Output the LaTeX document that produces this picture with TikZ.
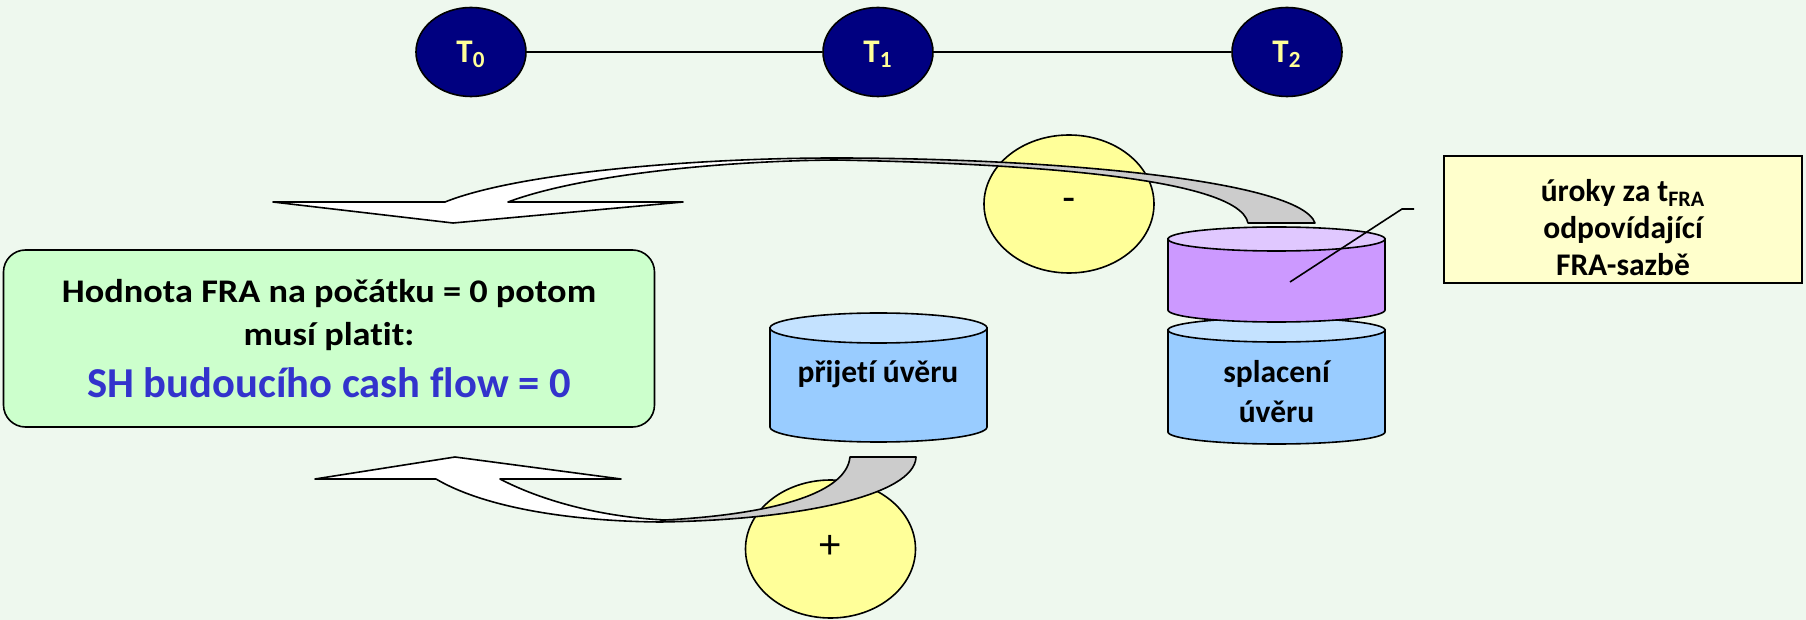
\documentclass[tikz,border=0pt]{standalone}
\usepackage{fontspec}
\setmainfont{Carlito}[Ligatures=NoCommon]
\newfontfamily\widefont{Carlito}[FakeStretch=1.1,Ligatures=NoCommon]
\newfontfamily\signfont{Liberation Sans}
\usetikzlibrary{shapes.geometric}

\definecolor{bgMint}{RGB}{238,248,238}
\definecolor{navyDot}{RGB}{0,0,128}
\definecolor{dotText}{RGB}{255,255,153}
\definecolor{signYellow}{RGB}{255,255,153}
\definecolor{valueGreen}{RGB}{204,255,204}
\definecolor{rateYellow}{RGB}{255,255,204}
\definecolor{flowBlue}{RGB}{51,51,204}
\definecolor{loanBlue}{RGB}{153,204,255}
\definecolor{loanBlueTop}{RGB}{196,226,255}
\definecolor{rateViolet}{RGB}{204,153,255}
\definecolor{rateVioletTop}{RGB}{224,200,255}
\definecolor{ribbonGray}{RGB}{204,204,204}

\begin{document}
\begin{tikzpicture}[x=0.5pt,y=-0.5pt,line width=0.8pt,
  every node/.style={font=\fontsize{15.75}{18.5}\selectfont\bfseries},
  timedot/.style={ellipse,draw,fill=navyDot,text=dotText,inner sep=0pt,
    minimum width=55pt,minimum height=44.5pt,text depth=0pt,
    font=\fontsize{16.5}{18}\selectfont\bfseries},
  signdot/.style={ellipse,draw,fill=signYellow,inner sep=0pt,
    minimum width=85pt,minimum height=69pt,font=\signfont\fontsize{20}{20}\selectfont},
  ribbonfront/.style={draw,fill=white,line join=round},
  ribbonback/.style={draw,fill=ribbonGray,line join=round}]
\fill[bgMint] (0,0) rectangle (1806,620);
\useasboundingbox (0,0) rectangle (1806,620);

\node[timedot] (T0) at (471,52) {T\textsubscript{0}};
\node[timedot] (T1) at (878,52) {T\textsubscript{1}};
\node[timedot] (T2) at (1287,52) {T\textsubscript{2}};
\draw (T0) -- (T1) -- (T2);

\node[draw,fill=valueGreen,rounded corners=11pt,minimum width=325.5pt,minimum height=88.5pt,
  align=center,font=\widefont\fontsize{16.5}{21.7}\selectfont\bfseries] (fraValue) at (329,338.5)
  {Hodnota FRA na počátku = 0 potom\\musí platit:\\[4.1pt]
   {\rmfamily\bfseries\fontsize{21.3}{25}\selectfont\color{flowBlue}SH budoucího cash flow = 0}};

\node[signdot] (minus) at (1069,204) {-};
\node[signdot] (plus) at (830.5,549) {\raisebox{1.8pt}{+}};

\filldraw[ribbonfront] (835,158) .. controls (700,158) and (520,172) .. (445,202)
  -- (273,202) -- (453,223) -- (683,202) -- (508,202)
  .. controls (580,175) and (720,161) .. (835,160) -- cycle;
\filldraw[ribbonback] (835,158) .. controls (1050,158) and (1300,180) .. (1315,223)
  -- (1248,223) .. controls (1238,175) and (1000,163) .. (835,160) -- cycle;

\filldraw[ribbonfront] (660,522) .. controls (560,521) and (480,505) .. (436,479)
  -- (315,479) -- (455,457) -- (621,479) -- (500,479)
  .. controls (540,500) and (600,517) .. (665,520) -- cycle;
\filldraw[ribbonback] (660,522) .. controls (800,520) and (915,495) .. (916,457)
  -- (850,457) .. controls (846,497) and (760,515) .. (665,520) -- cycle;

\filldraw[fill=loanBlue] (770,328) -- (770,427) arc[start angle=180,end angle=0,x radius=108.5,y radius=15] -- (987,328) -- cycle;
\filldraw[fill=loanBlueTop] (878.5,328) ellipse[x radius=108.5,y radius=15];
\node (loanIn) at (878,374) {přijetí úvěru};

\filldraw[fill=loanBlue] (1168,330) -- (1168,432) arc[start angle=180,end angle=0,x radius=108.5,y radius=12] -- (1385,330) -- cycle;
\filldraw[fill=loanBlueTop] (1276.5,330) ellipse[x radius=108.5,y radius=12];
\node[align=center,font=\fontsize{15.75}{20}\selectfont\bfseries] (loanOut) at (1276.5,392) {splacení\\úvěru};

\filldraw[fill=rateViolet] (1168,239) -- (1168,310) arc[start angle=180,end angle=0,x radius=108.5,y radius=12] -- (1385,239) -- cycle;
\filldraw[fill=rateVioletTop] (1276.5,239) ellipse[x radius=108.5,y radius=12];

\node[draw,fill=rateYellow,minimum width=179pt,minimum height=61.5pt,align=center] (fraRate) at (1623,219.5)
  {\rule{0pt}{19.5pt}úroky za t\textsubscript{FRA}\\odpovídající\\FRA-sazbě};
\coordinate (rateTip) at (1290,282);
\coordinate (rateKnee) at (1402,209);
\coordinate (rateEnd) at (1414,209);
\draw (rateTip) -- (rateKnee) -- (rateEnd);
\end{tikzpicture}
\end{document}
